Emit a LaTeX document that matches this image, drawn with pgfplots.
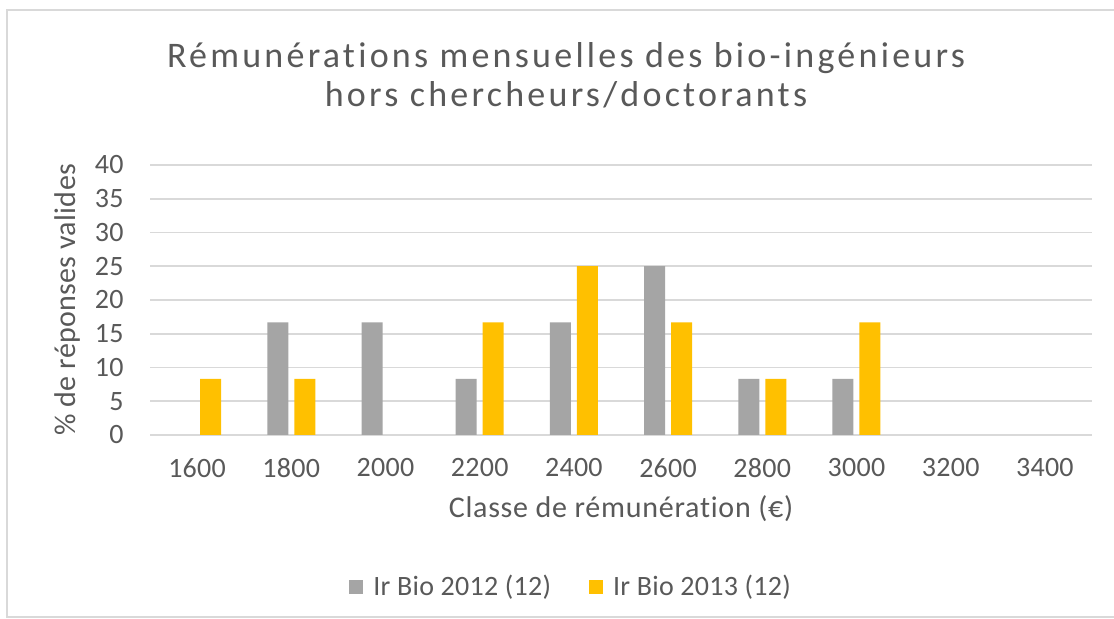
\documentclass[border=0pt]{standalone}
\usepackage{pgfplots}
\pgfplotsset{compat=1.18}
\usepackage{fontspec}
\setmainfont{Carlito}[Ligatures=NoCommon]
\definecolor{txt}{HTML}{595959}
\definecolor{grd}{HTML}{D9D9D9}
\definecolor{gris}{HTML}{A5A5A5}
\definecolor{gold}{HTML}{FFC000}
\begin{document}
\begin{tikzpicture}
\path[use as bounding box, fill=white] (0,0) rectangle (557pt,309.5pt);
\draw[grd, line width=1pt] (3.5pt,1pt) rectangle (570pt,304.5pt);
\begin{axis}[
  at={(75pt,92pt)}, anchor=south west,
  scale only axis, width=471pt, height=135pt,
  xmin=-0.5, xmax=9.5, ymin=0, ymax=40,
  ybar, bar width=10.5pt,
  axis line style={draw=none},
  major tick length=0pt,
  ymajorgrids, grid style={grd, line width=0.8pt},
  ytick={0,5,...,40},
  xtick={0,...,9},
  xticklabels={1600,1800,2000,2200,2400,2600,2800,3000,3200,3400},
  /pgf/number format/assume math mode=true,
  ticklabel style={font=\fontsize{14}{16}\selectfont\addfontfeatures{LetterSpace=1}, text=txt, inner sep=0pt},
  yticklabel style={anchor=east, xshift=-13pt},
  xticklabel style={anchor=north, yshift=-11.5pt},
  legend style={at={(0.446,-0.563)}, anchor=center, draw=none, fill=none,
    legend columns=2, font=\fontsize{14}{16}\selectfont\addfontfeatures{LetterSpace=1}, text=txt,
    nodes={inner xsep=0pt},
    /tikz/every even column/.append style={column sep=19pt}},
  legend image code/.code={\fill[#1] (0pt,-3.5pt) rectangle (7pt,3.5pt); \path (12pt,0pt);},
]
\addplot[fill=gris, draw=none, bar shift=-6.75pt] coordinates {
 (1,16.67) (2,16.67) (3,8.33) (4,16.67) (5,25) (6,8.33) (7,8.33)};
\addplot[fill=gold, draw=none, bar shift=6.75pt] coordinates {
 (0,8.33) (1,8.33) (3,16.67) (4,25) (5,16.67) (6,8.33) (7,16.67)};
\legend{Ir Bio 2012 (12), Ir Bio 2013 (12)}
\end{axis}
\node[anchor=base, text=txt, font=\fontsize{18}{20}\selectfont\addfontfeatures{LetterSpace=9}] at (283pt,275.5pt) {Rémunérations mensuelles des bio-ingénieurs};
\node[anchor=base, text=txt, font=\fontsize{18}{20}\selectfont\addfontfeatures{LetterSpace=9}] at (283pt,256pt) {hors chercheurs/doctorants};
\node[anchor=base, text=txt, font=\fontsize{15}{17}\selectfont\addfontfeatures{LetterSpace=2.5}] at (310.5pt,50.5pt) {Classe de rémunération (€)};
\node[rotate=90, text=txt, font=\fontsize{15}{17}\selectfont\addfontfeatures{LetterSpace=1}] at (33.5pt,159.5pt) {\% de réponses valides};
\end{tikzpicture}
\end{document}
